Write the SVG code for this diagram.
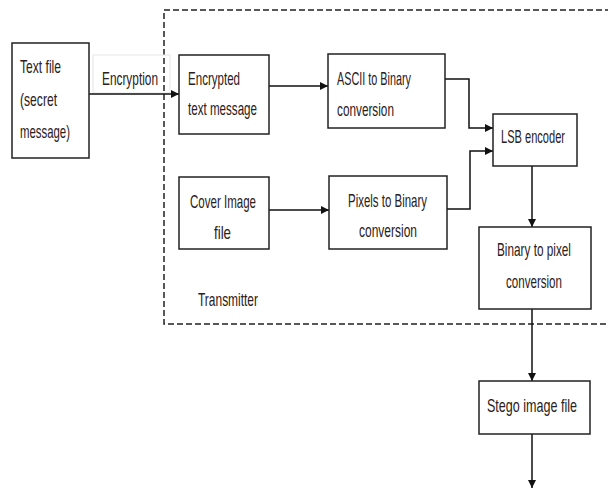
<svg xmlns="http://www.w3.org/2000/svg" width="608" height="488" viewBox="0 0 608 488">
<defs>
<style>
.box{fill:#fff;stroke:#222;stroke-width:1.5}
.t{font-family:"Liberation Sans",Arial,sans-serif;font-size:19px;fill:#2a2020}
.c{fill:none;stroke:#111;stroke-width:1.5}
</style>
<marker id="ah" viewBox="0 0 10 10" refX="10" refY="5" markerWidth="8" markerHeight="8" markerUnits="userSpaceOnUse" orient="auto">
<path d="M0,0 L10,5 L0,10 Z" fill="#111"/>
</marker>
</defs>
<rect width="608" height="488" fill="#fff"/>
<path d="M620 10 H164 V324 H620" fill="none" stroke="#222" stroke-width="1.5" stroke-dasharray="6 3"/>
<rect x="93" y="55" width="77" height="38" fill="none" stroke="#e6e6e6" stroke-width="1"/>
<g id="connectors">
<path class="c" d="M89 94 H179" marker-end="url(#ah)"/>
<path class="c" d="M269 86 H328" marker-end="url(#ah)"/>
<path class="c" d="M445 79 H469 V128 H493" marker-end="url(#ah)"/>
<path class="c" d="M269 210 H329" marker-end="url(#ah)"/>
<path class="c" d="M447 209 H470 V151 H493" marker-end="url(#ah)"/>
<path class="c" d="M532 166 V227" marker-end="url(#ah)"/>
<path class="c" d="M532 309 V381" marker-end="url(#ah)"/>
<path class="c" d="M532 434 V488" marker-end="url(#ah)"/>
</g>
<g id="textfile">
<rect class="box" x="12" y="43" width="77" height="115"/>
<text class="t" transform="translate(20,73) scale(0.7,1)" textLength="58.6" lengthAdjust="spacingAndGlyphs">Text file</text>
<text class="t" transform="translate(20,106) scale(0.7,1)" textLength="52.9" lengthAdjust="spacingAndGlyphs">(secret</text>
<text class="t" transform="translate(20,138) scale(0.7,1)" textLength="71.4" lengthAdjust="spacingAndGlyphs">message)</text>
</g>
<g id="encryption-label">
<text class="t" transform="translate(102,85) scale(0.7,1)" textLength="80" lengthAdjust="spacingAndGlyphs">Encryption</text>
</g>
<g id="encrypted">
<rect class="box" x="179" y="55" width="90" height="79"/>
<text class="t" transform="translate(188,85) scale(0.7,1)" textLength="74.3" lengthAdjust="spacingAndGlyphs">Encrypted</text>
<text class="t" transform="translate(188,115) scale(0.7,1)" textLength="98.6" lengthAdjust="spacingAndGlyphs">text message</text>
</g>
<g id="ascii">
<rect class="box" x="328" y="54" width="117" height="74"/>
<text class="t" transform="translate(337,85) scale(0.7,1)" textLength="105.7" lengthAdjust="spacingAndGlyphs">ASCII to Binary</text>
<text class="t" transform="translate(337,116) scale(0.7,1)" textLength="81.4" lengthAdjust="spacingAndGlyphs">conversion</text>
</g>
<g id="lsb">
<rect class="box" x="493" y="114" width="84" height="52"/>
<text class="t" transform="translate(501,143) scale(0.7,1)" textLength="91.4" lengthAdjust="spacingAndGlyphs">LSB encoder</text>
</g>
<g id="cover">
<rect class="box" x="179" y="177" width="90" height="72"/>
<text class="t" transform="translate(190,208) scale(0.7,1)" textLength="94.3" lengthAdjust="spacingAndGlyphs">Cover Image</text>
<text class="t" transform="translate(214,239) scale(0.7,1)" textLength="24.3" lengthAdjust="spacingAndGlyphs">file</text>
</g>
<g id="pixels">
<rect class="box" x="329" y="176" width="118" height="73"/>
<text class="t" transform="translate(348,207) scale(0.7,1)" textLength="112.9" lengthAdjust="spacingAndGlyphs">Pixels to Binary</text>
<text class="t" transform="translate(359,237) scale(0.7,1)" textLength="82.9" lengthAdjust="spacingAndGlyphs">conversion</text>
</g>
<g id="transmitter">
<text class="t" transform="translate(198,306) scale(0.7,1)" textLength="85.7" lengthAdjust="spacingAndGlyphs">Transmitter</text>
</g>
<g id="binpix">
<rect class="box" x="479" y="227" width="112" height="82"/>
<text class="t" transform="translate(497,256) scale(0.7,1)" textLength="105.7" lengthAdjust="spacingAndGlyphs">Binary to pixel</text>
<text class="t" transform="translate(506,288) scale(0.7,1)" textLength="80" lengthAdjust="spacingAndGlyphs">conversion</text>
</g>
<g id="stego">
<rect class="box" x="479" y="381" width="111" height="53"/>
<text class="t" transform="translate(487,412) scale(0.7,1)" textLength="128.6" lengthAdjust="spacingAndGlyphs">Stego image file</text>
</g>
</svg>
